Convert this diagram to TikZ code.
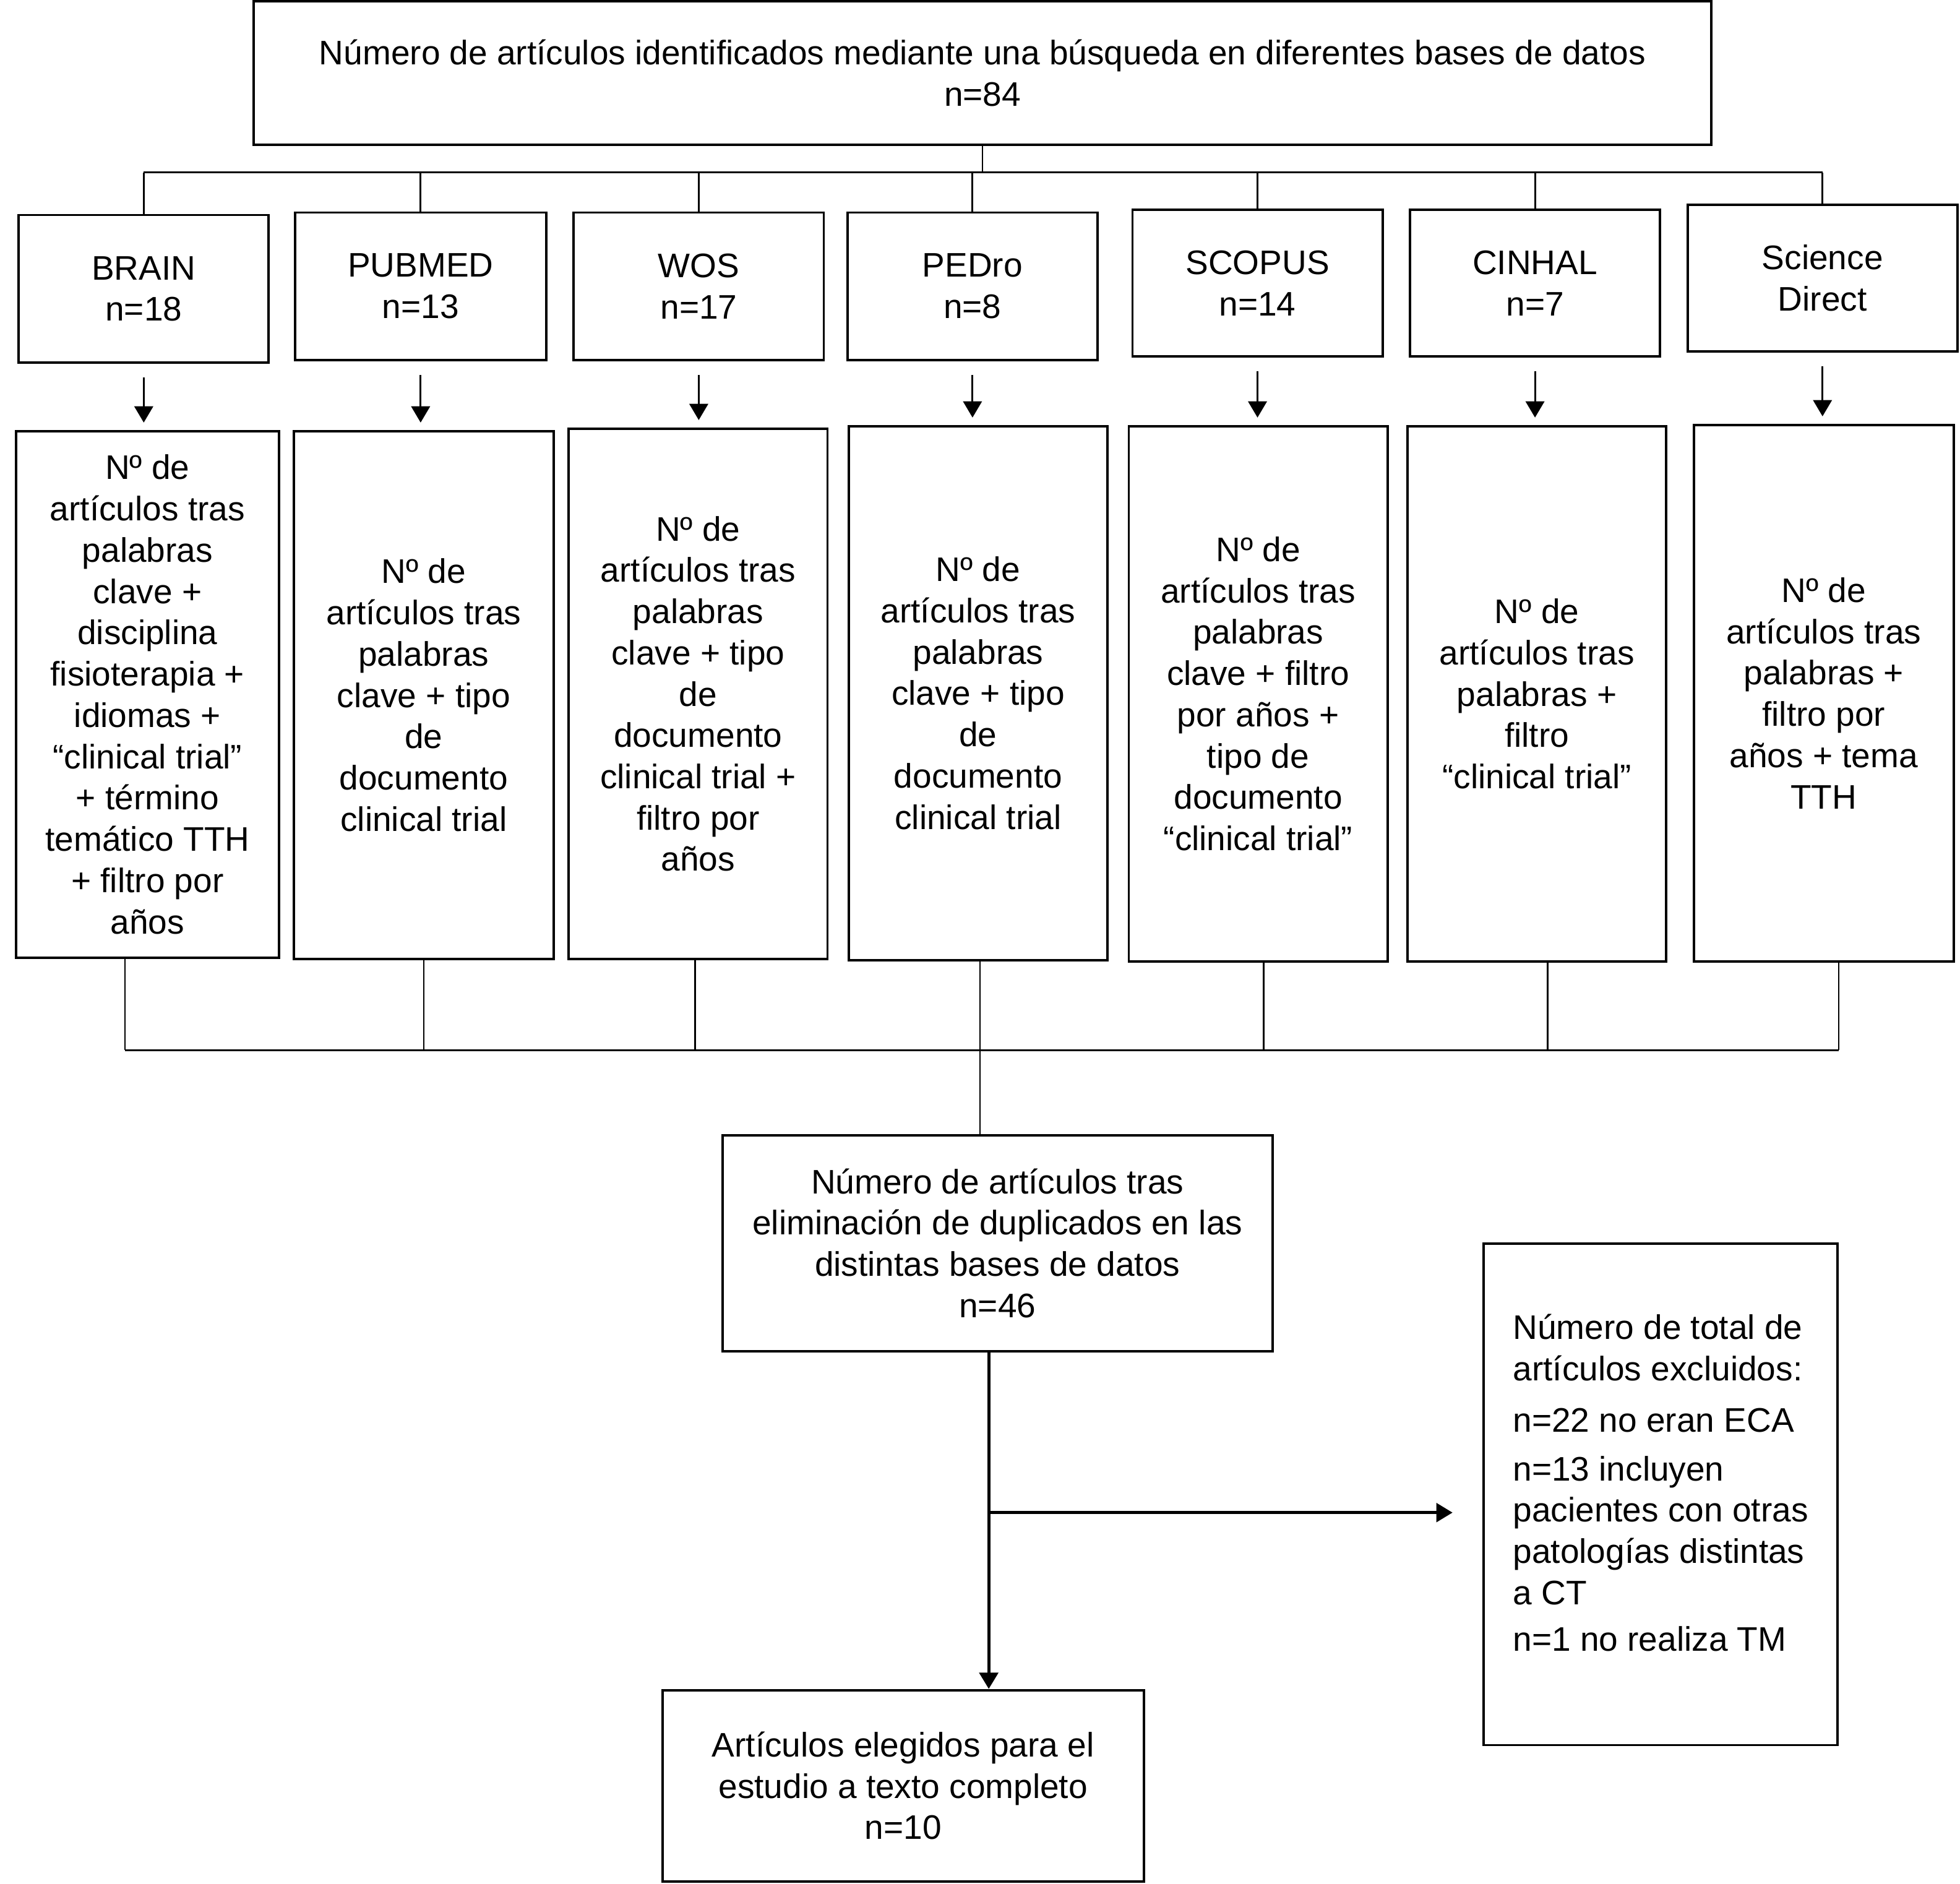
\documentclass[tikz,border=0pt]{standalone}
\usepackage{fontspec}
\setmainfont{Liberation Sans}
\usetikzlibrary{arrows.meta}
\newcommand\fs{\fontsize{15.5}{18.8}\selectfont}
\tikzset{
  box/.style={draw, line width=1.1pt, inner sep=0pt, align=center, font=\fs},
  thin/.style={line width=0.8pt},
  thick2/.style={line width=1.4pt},
  arr/.style={-{Triangle[length=0.26cm,width=0.3cm]}},
}
\newcommand\bx[6]{\node[box, minimum width={(#4-#2)*0.02cm}, minimum height={(#5-#3)*0.02cm}] (#1) at ({(#2+#4)/2},{(#3+#5)/2}) {#6};}
\begin{document}
\begin{tikzpicture}[x=0.02cm,y=-0.02cm]
\useasboundingbox[fill=white] (0,0) rectangle (1568,1507);
% top box
\bx{top}{203}{1}{1369}{116}{Número de artículos identificados mediante una búsqueda en diferentes bases de datos\\n=84}
% database boxes
\bx{db1}{15}{172}{215}{290}{BRAIN\\n=18}
\bx{db2}{236}{170}{437}{288}{PUBMED\\n=13}
\bx{db3}{459}{170}{659}{288}{WOS\\n=17}
\bx{db4}{678}{170}{878}{288}{PEDro\\n=8}
\bx{db5}{906}{168}{1106}{285}{SCOPUS\\n=14}
\bx{db6}{1128}{168}{1328}{285}{CINHAL\\n=7}
\bx{db7}{1350}{164}{1566}{281}{Science\\Direct}
% filter boxes
\bx{f1}{13}{345}{223}{766}{Nº de\\artículos tras\\palabras\\clave +\\disciplina\\fisioterapia +\\idiomas +\\“clinical trial”\\+ término\\temático TTH\\+ filtro por\\años}
\bx{f2}{235}{345}{443}{767}{Nº de\\artículos tras\\palabras\\clave + tipo\\de\\documento\\clinical trial}
\bx{f3}{455}{343}{662}{767}{Nº de\\artículos tras\\palabras\\clave + tipo\\de\\documento\\clinical trial +\\filtro por\\años}
\bx{f4}{679}{341}{886}{768}{Nº de\\artículos tras\\palabras\\clave + tipo\\de\\documento\\clinical trial}
\bx{f5}{903}{341}{1110}{769}{Nº de\\artículos tras\\palabras\\clave + filtro\\por años +\\tipo de\\documento\\“clinical trial”}
\bx{f6}{1126}{341}{1333}{769}{Nº de\\artículos tras\\palabras +\\filtro\\“clinical trial”}
\bx{f7}{1355}{340}{1563}{769}{Nº de\\artículos tras\\palabras +\\filtro por\\años + tema\\TTH}
% lower boxes
\bx{mid}{578}{908}{1018}{1081}{Número de artículos tras\\eliminación de duplicados en las\\distintas bases de datos\\n=46}
\bx{fin}{530}{1352}{915}{1505}{Artículos elegidos para el\\estudio a texto completo\\n=10}
\node[box, align=left, minimum width={(1470-1187)*0.02cm}, minimum height={(1396-995)*0.02cm}] (excl) at ({(1187+1470)/2},{(995+1396)/2})
 {Número de total de\\artículos excluidos:\\[0.16cm]n=22 no eran ECA\\[0.12cm]n=13 incluyen\\pacientes con otras\\patologías distintas\\a CT\\[0.08cm]n=1 no realiza TM\rule[-0.38cm]{0pt}{0.1pt}};
% top tree
\coordinate (barL) at (115,138);
\coordinate (barR) at (1458,138);
\draw[thin] (top.south) -- (top.south |- barL);
\draw[thin] (barL) -- (barR);
\foreach \d in {db1,db2,db3,db4,db5,db6,db7}{
  \draw[thin] (\d.north |- barL) -- (\d.north);
}
% arrows db -> filter
\foreach \d/\f in {db1/f1,db2/f2,db3/f3,db4/f4,db5/f5,db6/f6,db7/f7}{
  \draw[thin,arr,shorten <=0.22cm,shorten >=0.12cm] (\d.south) -- (\d.south |- \f.north);
}
% collecting tree
\coordinate (c1) at (100,840);
\coordinate (c2) at (339,840);
\coordinate (c3) at (556,840);
\coordinate (c4) at (784,840);
\coordinate (c5) at (1011,840);
\coordinate (c6) at (1238,840);
\coordinate (c7) at (1471,840);
\foreach \f/\c in {f1/c1,f2/c2,f3/c3,f4/c4,f5/c5,f6/c6,f7/c7}{
  \draw[thin] (\f.south -| \c) -- (\c);
}
\draw[thin] (c1) -- (c7);
\draw[thin] (c4) -- (c4 |- mid.north);
% lower flow
\coordinate (m1) at (791,1210);
\draw[thick2,arr] (mid.south -| m1) -- (m1 |- fin.north);
\draw[thick2,arr,shorten >=0.48cm] (m1) -- (excl.west |- m1);
\end{tikzpicture}
\end{document}
